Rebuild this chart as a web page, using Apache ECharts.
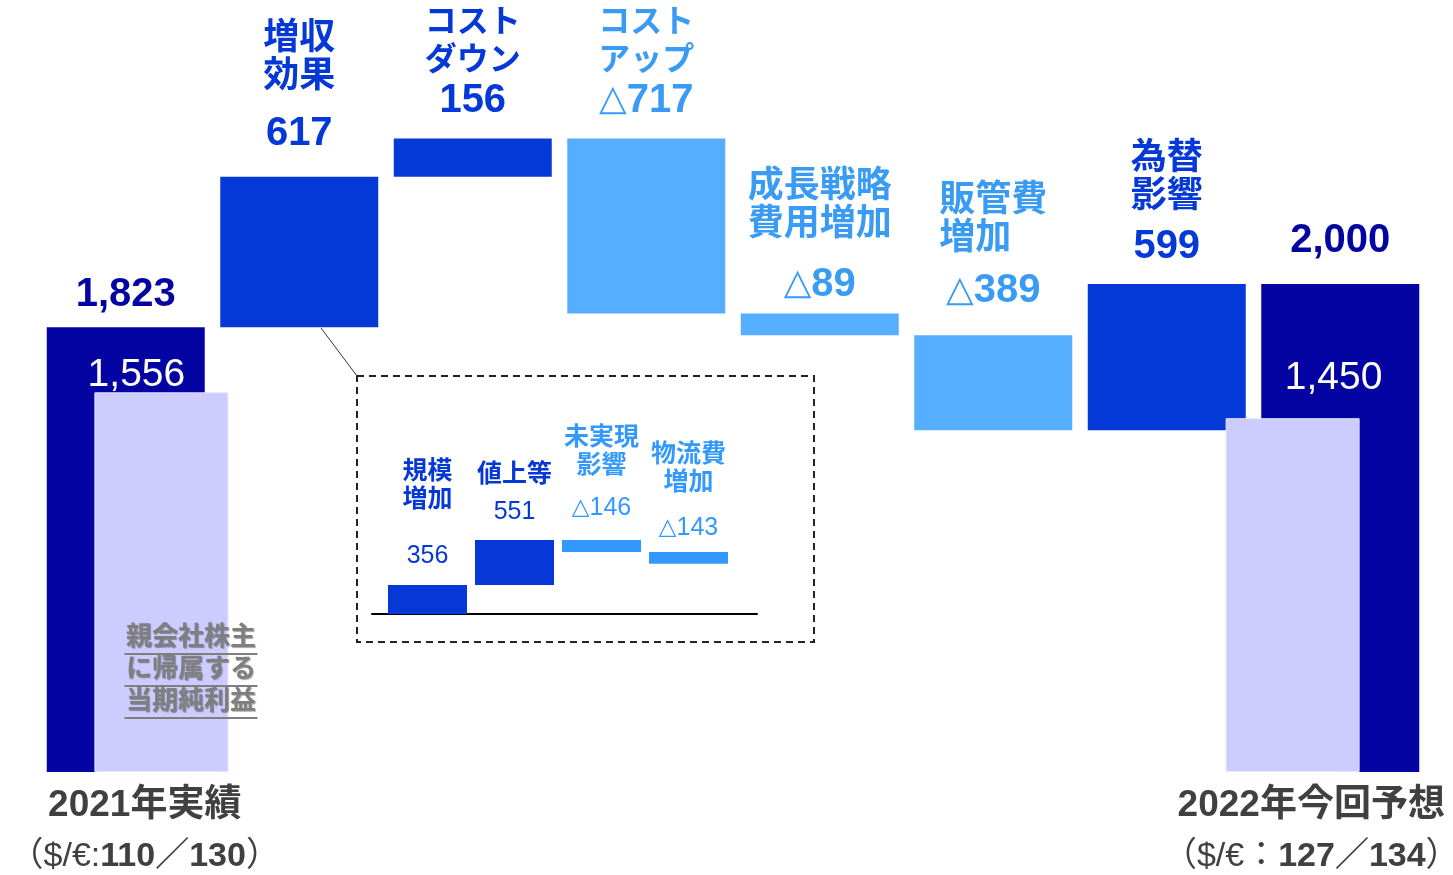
<!DOCTYPE html>
<html><head><meta charset="utf-8">
<script src="https://cdn.jsdelivr.net/npm/echarts@6/dist/echarts.min.js"></script>
<style>html,body{margin:0;padding:0;background:#fff}#c{width:1453px;height:875px}</style>
</head><body><div id="c"></div>
<script>
// ---- data ----
const categories = ['2021年実績','増収効果','コストダウン','コストアップ','成長戦略費用増加','販管費増加','為替影響','2022年今回予想'];
const barNames = ['', '増収\n効果', 'コスト\nダウン', 'コスト\nアップ', '成長戦略\n費用増加', '販管費\n増加', '為替\n影響', ''];
const steps = [1823, 617, 156, -717, -89, -389, 599, 2000]; // first and last are totals
const rateLabels = ['（$/€:110／130）', '（$/€：127／134）'];
const netIncomeValues = [1556, 1450];
const netIncomeNote = ['親会社株主', 'に帰属する', '当期純利益'];
const insetNames = ['規模\n増加', '値上等', '未実現\n影響', '物流費\n増加'];
const insetSteps = [356, 551, -146, -143];

// ---- layout / style (not data) ----
const F = "'Liberation Sans','Noto Sans CJK JP',sans-serif";
const FD = "'DejaVu Sans',sans-serif";
const navy = '#0404A3', blue = '#0539D7', lightBlue = '#55AEFF', textLight = '#3A9BF5', lav = '#CCCCFF';
const insetBlue = '#0638D8', insetLight = '#3399FF';
const labelDist = [12, 23, 18, 18, 9, 24, 17, 23];
const labelGap = [0, 18, 0, 0, 20, 13, 11, 0];
const nameSize = [36, 36, 32, 32, 36, 36, 36, 36];
const nameAlign = ['center','center','center','center','center','left','center','center'];
const netIncomeX = [0.2055, 6.7255];
const netLabelOffset = [[-25, 0], [41, 0]];
const netLabelDist = [-3, 20];
const insetDist = [15, 14, 18, 10];
const insetGap = [28, 9, 14, 17];

const fmt = v => v < 0 ? '△' + Math.abs(v) : v.toLocaleString('en-US');
const fmtRich = v => v < 0 ? '{d|△}{v|' + Math.abs(v) + '}' : '{v|' + v.toLocaleString('en-US') + '}';

// waterfall
const base = [], height = [];
let run = 0;
steps.forEach((v, i) => {
  if (i === 0 || i === steps.length - 1) { base.push(0); height.push(v); run = v; }
  else if (v >= 0) { base.push(run); height.push(v); run += v; }
  else { run += v; base.push(run); height.push(-v); }
});
const iBase = [], iHeight = [];
run = 0;
insetSteps.forEach(v => {
  if (v >= 0) { iBase.push(run); iHeight.push(v); run += v; }
  else { run += v; iBase.push(run); iHeight.push(-v); }
});

const mainData = height.map((h, i) => {
  const v = steps[i];
  const isTotal = i === 0 || i === steps.length - 1;
  const barColor = isTotal ? navy : (v >= 0 ? blue : lightBlue);
  const txtColor = isTotal ? navy : (v >= 0 ? blue : textLight);
  const gap = labelGap[i];
  let f = '';
  if (barNames[i]) {
    f += barNames[i].split('\n').map(s => '{n|' + s + '}').join('\n') + '\n';
    if (gap > 0) f += '{g| }\n';
  }
  f += fmtRich(v);
  return {
    value: h, itemStyle: { color: barColor },
    label: {
      show: true, position: 'top', distance: labelDist[i], formatter: f,
      rich: {
        n: { fontSize: nameSize[i], lineHeight: 38, fontWeight: 'bold', color: txtColor, fontFamily: F, align: nameAlign[i] },
        g: { fontSize: 1, lineHeight: gap },
        v: { fontSize: 40, lineHeight: 40, fontWeight: 'bold', color: txtColor, fontFamily: F },
        d: { fontSize: 36, lineHeight: 40, fontWeight: 'bold', color: txtColor, fontFamily: FD }
      }
    }
  };
});

const insetData = iHeight.map((h, i) => {
  const v = insetSteps[i];
  const c = v >= 0 ? insetBlue : insetLight;
  let f = insetNames[i].split('\n').map(s => '{n|' + s + '}').join('\n') + '\n';
  if (insetGap[i] > 0) f += '{g| }\n';
  f += fmtRich(v);
  return {
    value: h, itemStyle: { color: c },
    label: {
      show: true, position: 'top', distance: insetDist[i], formatter: f,
      rich: {
        n: { fontSize: 25, lineHeight: 28, fontWeight: 'bold', color: c, fontFamily: F },
        g: { fontSize: 1, lineHeight: insetGap[i] },
        v: { fontSize: 25, lineHeight: 28, color: c, fontFamily: F },
        d: { fontSize: 23, lineHeight: 28, color: c, fontFamily: FD }
      }
    }
  };
});

const netData = netIncomeValues.map((v, i) => ({
  value: [netIncomeX[i], v],
  label: {
    show: true, position: 'top', distance: netLabelDist[i], offset: netLabelOffset[i],
    formatter: fmt(v), color: '#fff', fontSize: 39, lineHeight: 40, fontFamily: F
  }
}));

function axisFmt(value, idx) {
  let s, k;
  if (idx === 0) { s = rateLabels[0]; k = '0'; }
  else if (idx === categories.length - 1) { s = rateLabels[1]; k = '7'; }
  else return '';
  const m = s.match(/^(.*?)(\d[\d／\/]*\d)(.*)$/);
  return '{t' + k + '|' + value + '}\n{p' + k + '|' + m[1] + '}{b|' + m[2] + '}{e' + k + '|' + m[3] + '}';
}
const tStyle = { fontSize: 37, lineHeight: 48, fontWeight: 'bold', color: '#404040', fontFamily: F };
const rStyle = { fontSize: 34, lineHeight: 54, color: '#404040', fontFamily: F };
const bStyle = { fontSize: 34, lineHeight: 54, fontWeight: 'bold', color: '#404040', fontFamily: F };

const chart = echarts.init(document.getElementById('c'), null, { renderer: 'canvas' });
chart.setOption({
  backgroundColor: '#fff',
  animation: false,
  grid: [
    { left: 39, width: 1388, top: 40, height: 732, containLabel: false, outerBoundsMode: 'none' },
    { left: 384, width: 348, top: 532.5, height: 81.5, containLabel: false, outerBoundsMode: 'none' },
    { left: 372, width: 385, top: 532.5, height: 81.5, containLabel: false, outerBoundsMode: 'none' }
  ],
  xAxis: [
    { type: 'category', gridIndex: 0, data: categories, axisLine: { show: false }, axisTick: { show: false },
      axisLabel: { interval: 0, margin: 10, formatter: axisFmt,
        rich: {
          t0: Object.assign({}, tStyle, { padding: [0, 0, 0, 38] }),
          t7: Object.assign({}, tStyle, { padding: [0, 58, 0, 0] }),
          p0: Object.assign({}, rStyle, { padding: [0, 0, 0, 38] }),
          p7: Object.assign({}, rStyle),
          b: bStyle,
          e0: Object.assign({}, rStyle),
          e7: Object.assign({}, rStyle, { padding: [0, 58, 0, 0] })
        } } },
    { type: 'value', gridIndex: 0, min: -0.5, max: 7.5, show: false },
    { type: 'category', gridIndex: 1, data: insetNames, show: false },
    { type: 'value', gridIndex: 2, min: 0, max: 1, axisLine: { show: true, onZero: true, lineStyle: { color: '#000', width: 2 } },
      axisTick: { show: false }, axisLabel: { show: false }, splitLine: { show: false } }
  ],
  yAxis: [
    { type: 'value', gridIndex: 0, min: 0, max: 3000, show: false },
    { type: 'value', gridIndex: 1, min: 0, max: 1000, show: false },
    { type: 'value', gridIndex: 2, min: 0, max: 1, show: false }
  ],
  series: [
    { type: 'bar', xAxisIndex: 0, yAxisIndex: 0, stack: 'w', barWidth: 158, silent: true,
      itemStyle: { color: 'transparent' }, data: base },
    { type: 'bar', xAxisIndex: 0, yAxisIndex: 0, stack: 'w', barWidth: 158, data: mainData },
    { type: 'bar', xAxisIndex: 1, yAxisIndex: 0, barWidth: 134,
      itemStyle: { color: lav, borderColor: '#E4E4FF', borderWidth: 1 }, data: netData },
    { type: 'bar', xAxisIndex: 2, yAxisIndex: 1, stack: 'i', barWidth: 79, silent: true,
      itemStyle: { color: 'transparent' }, data: iBase },
    { type: 'bar', xAxisIndex: 2, yAxisIndex: 1, stack: 'i', barWidth: 79, data: insetData }
  ],
  graphic: [
    { type: 'rect', shape: { x: 357, y: 376, width: 457, height: 266 },
      style: { fill: 'none', stroke: '#222', lineWidth: 2, lineDash: [7, 5] } },
    { type: 'line', shape: { x1: 321, y1: 328, x2: 357, y2: 376 }, style: { stroke: '#333', lineWidth: 1 } },
    { type: 'text', x: 191, y: 624, z: 100,
      style: {
        text: netIncomeNote.map(s => '{t|' + s + '}\n{u| }').join('\n'),
        align: 'center', verticalAlign: 'top',
        rich: {
          t: { fontSize: 26, lineHeight: 28, fontWeight: 'bold', fill: '#7F7F7F', fontFamily: F,
               textShadowColor: 'rgba(0,0,0,0.35)', textShadowOffsetX: 1, textShadowOffsetY: 1, textShadowBlur: 1 },
          u: { fontSize: 1, lineHeight: 4, height: 2, width: 133, backgroundColor: '#7F7F7F' }
        }
      } }
  ]
});
</script></body></html>
